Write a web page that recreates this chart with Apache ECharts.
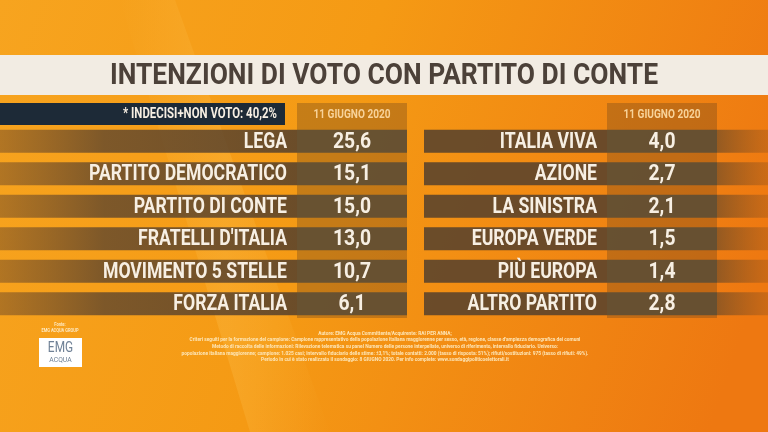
<!DOCTYPE html>
<html><head><meta charset="utf-8">
<script src="https://cdn.jsdelivr.net/npm/echarts@6/dist/echarts.min.js"></script>
<style>html,body{margin:0;padding:0;background:#f39412}#c{width:768px;height:432px}</style>
</head><body><div id="c"></div>
<script>
const titleText = 'INTENZIONI DI VOTO CON PARTITO DI CONTE';
const noteText = '* INDECISI+NON VOTO: 40,2%';
const dateHeaders = ['11 GIUGNO 2020', '11 GIUGNO 2020'];
const leftParties = ['LEGA', 'PARTITO DEMOCRATICO', 'PARTITO DI CONTE', "FRATELLI D'ITALIA", 'MOVIMENTO 5 STELLE', 'FORZA ITALIA'];
const leftValues = [25.6, 15.1, 15.0, 13.0, 10.7, 6.1];
const rightParties = ['ITALIA VIVA', 'AZIONE', 'LA SINISTRA', 'EUROPA VERDE', 'PIÙ EUROPA', 'ALTRO PARTITO'];
const rightValues = [4.0, 2.7, 2.1, 1.5, 1.4, 2.8];
const sourceLines = ['Fonte:', 'EMG ACQUA GROUP'];
const footerLines = [
  'Autore: EMG Acqua Committente/Acquirente: RAI PER ANNA;',
  "Criteri seguiti per la formazione del campione: Campione rappresentativo della popolazione italiana maggiorenne per sesso, età, regione, classe d'ampiezza demografica dei comuni",
  'Metodo di raccolta delle informazioni: Rilevazione telematica su panel Numero delle persone interpellate, universo di riferimento, intervallo fiduciario. Universo:',
  'popolazione italiana maggiorenne; campione: 1.025 casi; intervallo fiduciario delle stime: ±3,1%; totale contatti: 2.000 (tasso di risposta: 51%); rifiuti/sostituzioni: 975 (tasso di rifiuti: 49%).',
  'Periodo in cui è stato realizzato il sondaggio: 8 GIUGNO 2020. Per info complete: www.sondaggipoliticoelettorali.it'
];

const FAM = 'Roboto';
const cv = document.createElement('canvas').getContext('2d');
function fitScale(text, size, target, weight) {
  cv.font = (weight || 'bold') + ' ' + size + 'px ' + FAM;
  return target / cv.measureText(text).width;
}
const fmt = v => v.toFixed(1).replace('.', ',');

const titleScale = fitScale(titleText, 30, 548);
const labelScale = fitScale('PARTITO DEMOCRATICO', 22, 198);
const valueScale = fitScale('25,6', 22, 38);
const dateScale = fitScale(dateHeaders[0], 12, 77);
const noteScale = fitScale(noteText, 14, 154);
const footScale = fitScale(footerLines[3], 6, 407, 'bold');

const CREAM = '#f7efe3';
const BAND = 'rgba(88,66,44,0.88)';
const CELL = 'rgba(96,78,52,0.92)';

const layouts = [
  { labelL: 0, labelR: 297, cellL: 297, cellR: 407, fadeR: null },
  { labelL: 424, labelR: 607, cellL: 607, cellR: 717, fadeR: 768 }
];

function makeRender(names, lay) {
  return function (params, api) {
    const idx = api.value(1);
    const val = api.value(0);
    const cy = api.coord([0, idx])[1];
    const h = api.size([0, 1])[1] * 0.71;
    const top = cy - h / 2;
    const ch = [
      { type: 'rect', shape: { x: lay.labelL, y: top, width: lay.labelR - lay.labelL, height: h },
        style: { fill: lay.labelL === 0 ? { type: 'linear', x: 0, y: 0, x2: 1, y2: 0, colorStops: [{ offset: 0, color: 'rgba(120,80,40,0.55)' }, { offset: 0.35, color: 'rgba(95,70,45,0.8)' }, { offset: 1, color: BAND }] } : BAND } },
      { type: 'rect', shape: { x: lay.cellL, y: top, width: lay.cellR - lay.cellL, height: h }, style: { fill: CELL } }
    ];
    if (lay.fadeR) {
      ch.push({ type: 'rect', shape: { x: lay.cellR, y: top, width: lay.fadeR - lay.cellR, height: h },
        style: { fill: { type: 'linear', x: 0, y: 0, x2: 1, y2: 0, colorStops: [{ offset: 0, color: 'rgba(110,75,40,0.7)' }, { offset: 1, color: 'rgba(140,80,30,0.35)' }] } } });
    }
    ch.push({ type: 'text', x: lay.labelR - 10, y: cy + 1, scaleX: labelScale,
      style: { text: names[idx], fill: CREAM, font: 'bold 22px ' + FAM, align: 'right', verticalAlign: 'middle' } });
    ch.push({ type: 'text', x: (lay.cellL + lay.cellR) / 2, y: cy + 1, scaleX: valueScale,
      style: { text: fmt(val), fill: CREAM, font: 'bold 22px ' + FAM, align: 'center', verticalAlign: 'middle' } });
    return { type: 'group', children: ch };
  };
}

const graphics = [
  { type: 'polygon', z: 0, shape: { points: [[120, 0], [175, 0], [330, 432], [250, 432]] },
    style: { fill: { type: 'linear', x: 0, y: 0, x2: 1, y2: 0, colorStops: [{ offset: 0, color: 'rgba(255,200,90,0)' }, { offset: 0.5, color: 'rgba(255,200,90,0.25)' }, { offset: 1, color: 'rgba(255,200,90,0)' }] } } },
  { type: 'rect', z: 1, shape: { x: 0, y: 55, width: 768, height: 40 }, style: { fill: '#f2ece3' } },
  { type: 'text', z: 2, x: 384, y: 76, scaleX: titleScale,
    style: { text: titleText, fill: '#4c4139', font: 'bold 30px ' + FAM, align: 'center', verticalAlign: 'middle' } },
  { type: 'rect', z: 1, shape: { x: 0, y: 103, width: 285, height: 22 }, style: { fill: '#1d2a37' } },
  { type: 'text', z: 2, x: 277, y: 114.5, scaleX: noteScale,
    style: { text: noteText, fill: CREAM, font: 'bold 14px ' + FAM, align: 'right', verticalAlign: 'middle' } }
];
layouts.forEach((lay, k) => {
  graphics.push({ type: 'rect', z: 1, shape: { x: lay.cellL, y: 103, width: lay.cellR - lay.cellL, height: 215 }, style: { fill: 'rgba(110,70,30,0.35)' } });
  graphics.push({ type: 'text', z: 2, x: (lay.cellL + lay.cellR) / 2, y: 115, scaleX: dateScale,
    style: { text: dateHeaders[k], fill: '#f8d39a', font: 'bold 12px ' + FAM, align: 'center', verticalAlign: 'middle' } });
});
graphics.push({ type: 'text', z: 2, x: 60, y: 325, scaleX: 0.8, style: { text: sourceLines[0], fill: '#fde8c0', font: 'bold 5px ' + FAM, align: 'center', verticalAlign: 'middle' } });
graphics.push({ type: 'text', z: 2, x: 60, y: 331, scaleX: 0.8, style: { text: sourceLines[1], fill: '#fde8c0', font: 'bold 5px ' + FAM, align: 'center', verticalAlign: 'middle' } });
graphics.push({ type: 'rect', z: 2, shape: { x: 39, y: 338, width: 43, height: 29 }, style: { fill: '#ffffff' } });
graphics.push({ type: 'text', z: 3, x: 60.5, y: 348, scaleX: 0.85, style: { text: 'EMG', fill: '#6f8196', font: '14px ' + FAM, align: 'center', verticalAlign: 'middle' } });
graphics.push({ type: 'text', z: 3, x: 60.5, y: 359.5, scaleX: 0.85, style: { text: 'ACQUA', fill: '#6f8196', font: '8px ' + FAM, align: 'center', verticalAlign: 'middle' } });
footerLines.forEach((t, i) => {
  graphics.push({ type: 'text', z: 2, x: 385, y: 333 + i * 6.7, scaleX: footScale,
    style: { text: t, fill: '#fde6b8', font: 'bold 6px ' + FAM, align: 'center', verticalAlign: 'middle' } });
});

const chart = echarts.init(document.getElementById('c'));
chart.setOption({
  animation: false,
  backgroundColor: { type: 'linear', x: 0, y: 0, x2: 1, y2: 0.6, colorStops: [{ offset: 0, color: '#f7a41f' }, { offset: 0.45, color: '#f59a14' }, { offset: 1, color: '#ee7811' }] },
  grid: [
    { left: 0, width: 407, top: 125, height: 195 },
    { left: 424, width: 344, top: 125, height: 195 }
  ],
  xAxis: [
    { gridIndex: 0, type: 'value', min: 0, max: 30, show: false },
    { gridIndex: 1, type: 'value', min: 0, max: 30, show: false }
  ],
  yAxis: [
    { gridIndex: 0, type: 'category', data: leftParties, inverse: true, show: false },
    { gridIndex: 1, type: 'category', data: rightParties, inverse: true, show: false }
  ],
  graphic: graphics,
  series: [
    { type: 'custom', xAxisIndex: 0, yAxisIndex: 0, z: 5, renderItem: makeRender(leftParties, layouts[0]),
      data: leftValues.map((v, i) => [v, i]) },
    { type: 'custom', xAxisIndex: 1, yAxisIndex: 1, z: 5, renderItem: makeRender(rightParties, layouts[1]),
      data: rightValues.map((v, i) => [v, i]) }
  ]
});
</script></body></html>
